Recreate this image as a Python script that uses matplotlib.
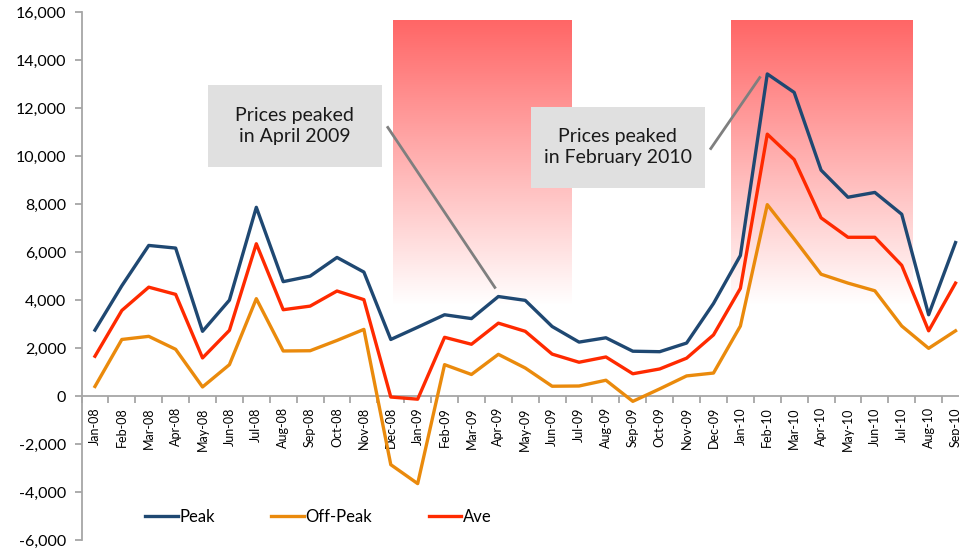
import numpy as np
import matplotlib
matplotlib.use("Agg")
import matplotlib.pyplot as plt
from matplotlib.patches import Rectangle
from matplotlib.ticker import FuncFormatter

plt.rcParams['font.family'] = ['Lato', 'DejaVu Sans']

months = ["Jan-08", "Feb-08", "Mar-08", "Apr-08", "May-08", "Jun-08", "Jul-08", "Aug-08",
          "Sep-08", "Oct-08", "Nov-08", "Dec-08", "Jan-09", "Feb-09", "Mar-09", "Apr-09",
          "May-09", "Jun-09", "Jul-09", "Aug-09", "Sep-09", "Oct-09", "Nov-09", "Dec-09",
          "Jan-10", "Feb-10", "Mar-10", "Apr-10", "May-10", "Jun-10", "Jul-10", "Aug-10",
          "Sep-10"]

peak = [2750, 4600, 6280, 6170, 2700, 4000, 7870, 4770, 5000, 5780, 5170, 2360,
        2870, 3390, 3230, 4150, 3990, 2900, 2250, 2430, 1870, 1850, 2210, 3860,
        5860, 13430, 12660, 9420, 8290, 8490, 7580, 3390, 6400]
off_peak = [400, 2360, 2490, 1950, 380, 1310, 4060, 1880, 1890, 2320, 2780, -2860,
            -3650, 1310, 900, 1740, 1170, 410, 420, 660, -220, 300, 840, 960,
            2920, 7980, 6550, 5080, 4710, 4390, 2920, 1990, 2720]
ave = [1660, 3570, 4540, 4240, 1590, 2740, 6350, 3600, 3750, 4380, 4020, -40,
       -130, 2450, 2160, 3040, 2700, 1750, 1410, 1630, 930, 1130, 1580, 2550,
       4490, 10920, 9860, 7430, 6620, 6620, 5450, 2720, 4710]

# shaded "price spike" windows: (x0, x1) in category units
shade_spans = [(11.1, 17.75), (23.65, 30.4)]
shade_y = (3800, 15650)

notes = [
    dict(text="Prices peaked\nin April 2009", box=(4.2, 9570, 6.46, 3380),
         line=((10.89, 11200), (14.87, 4530))),
    dict(text="Prices peaked\nin February 2010", box=(16.21, 8670, 6.47, 3400),
         line=((22.9, 10320), (24.72, 13280))),
]

fig = plt.figure(figsize=(9.59, 5.54), dpi=100)
ax = fig.add_axes([0.085, 0.0253, 0.9254, 0.9525])

x = np.arange(len(months))

# gradient shading (red on top fading to white)
ramp = np.linspace(0, 1, 256)[:, None]
top = np.array([1.0, 0.40, 0.40])
rgba = np.ones((256, 1, 4))
rgba[..., :3] = top * (1 - ramp[..., None]) + 1.0 * ramp[..., None]
for x0, x1 in shade_spans:
    ax.imshow(rgba, extent=(x0, x1, shade_y[0], shade_y[1]), origin='upper',
              aspect='auto', zorder=0, interpolation='bilinear')

for n in notes:
    (a, b) = n["line"]
    ax.plot([a[0], b[0]], [a[1], b[1]], color='#7f7f7f', lw=2, zorder=2)
    bx, by, bw, bh = n["box"]
    ax.add_patch(Rectangle((bx, by), bw, bh, facecolor='#e0e0e0', edgecolor='none', zorder=3))
    ax.text(bx + bw / 2, by + bh / 2, n["text"], ha='center', va='center',
            fontsize=14, color='#1a1a1a', zorder=4, linespacing=1.3)

ax.plot(x, peak, color='#1f4872', lw=2.4, label='Peak', zorder=5)
ax.plot(x, off_peak, color='#ea8a0c', lw=2.4, label='Off-Peak', zorder=5)
ax.plot(x, ave, color='#ff2a00', lw=2.4, label='Ave', zorder=5)

ax.set_xlim(-0.5, len(months) - 0.5)
ax.set_ylim(-6000, 16000)
ax.set_yticks(np.arange(-6000, 16001, 2000))
ax.yaxis.set_major_formatter(FuncFormatter(lambda v, p: f"{int(v):,}"))

ax.spines['top'].set_visible(False)
ax.spines['right'].set_visible(False)
ax.spines['bottom'].set_position(('data', 0))
for s in ('left', 'bottom'):
    ax.spines[s].set_color('#a6a6a6')
    ax.spines[s].set_linewidth(1.3)

ax.set_xticks(np.arange(-0.5, len(months), 1.0))
ax.set_xticklabels([])
ax.set_xticks(x, minor=True)
ax.set_xticklabels(months, minor=True, rotation=90, fontsize=9)
ax.tick_params(axis='x', which='major', length=5, color='#a6a6a6', width=1.3)
ax.tick_params(axis='x', which='minor', length=0, pad=8)
ax.tick_params(axis='y', length=5, color='#a6a6a6', width=1.3, labelsize=11.5, pad=6)

leg = ax.legend(loc='center left', bbox_to_anchor=(145 / 959, 37 / 554),
                bbox_transform=fig.transFigure, ncol=3, frameon=False,
                fontsize=12, handlelength=1.95, handletextpad=0.1, columnspacing=3.4,
                borderpad=0, borderaxespad=0)

fig.savefig("out.png", dpi=100)
